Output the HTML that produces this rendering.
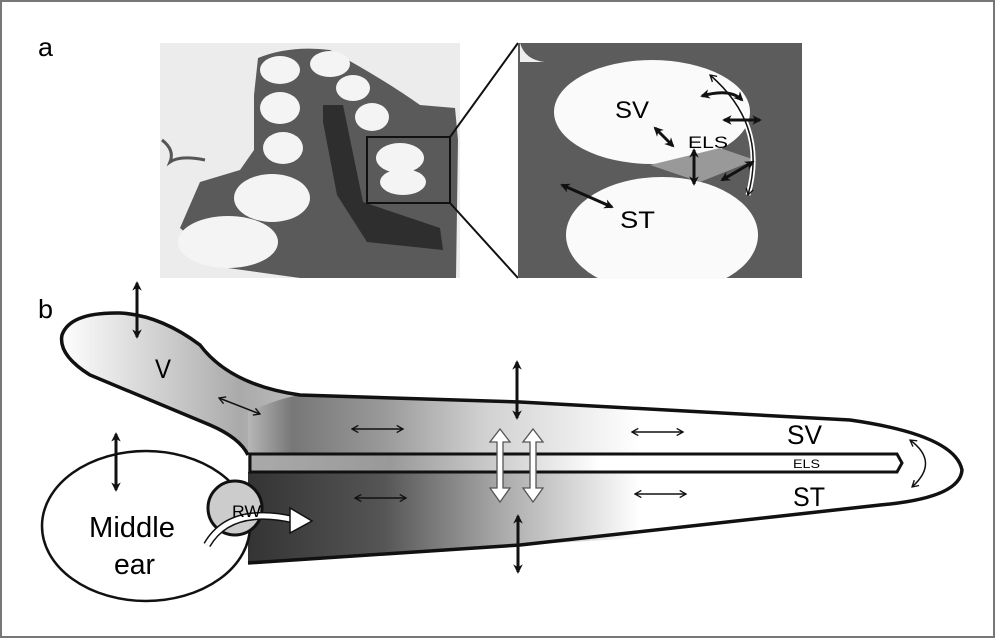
<!DOCTYPE html>
<html><head><meta charset="utf-8"><style>
html,body{margin:0;padding:0;background:#fff}
svg{display:block}
text{font-family:"Liberation Sans",sans-serif}
</style></head><body>
<svg width="995" height="638" viewBox="0 0 995 638" xmlns="http://www.w3.org/2000/svg">
<defs>
<linearGradient id="gV" gradientUnits="userSpaceOnUse" x1="60" y1="0" x2="960" y2="0">
<stop offset="0" stop-color="#fff"/><stop offset="0.2" stop-color="#aaa"/><stop offset="0.4" stop-color="#ddd"/><stop offset="0.64" stop-color="#fff"/><stop offset="1" stop-color="#fff"/></linearGradient>
<linearGradient id="gSV" gradientUnits="userSpaceOnUse" x1="245" y1="0" x2="640" y2="0">
<stop offset="0" stop-color="#bbb"/><stop offset="0.12" stop-color="#777"/><stop offset="0.35" stop-color="#999"/><stop offset="0.6" stop-color="#d0d0d0"/><stop offset="1" stop-color="#fff"/></linearGradient>
<linearGradient id="gST" gradientUnits="userSpaceOnUse" x1="245" y1="0" x2="640" y2="0">
<stop offset="0" stop-color="#333"/><stop offset="0.35" stop-color="#555"/><stop offset="0.65" stop-color="#aaa"/><stop offset="1" stop-color="#fff"/></linearGradient>
<linearGradient id="gELS" gradientUnits="userSpaceOnUse" x1="250" y1="0" x2="600" y2="0">
<stop offset="0" stop-color="#aaa"/><stop offset="0.4" stop-color="#999"/><stop offset="1" stop-color="#fff"/></linearGradient>
<marker id="ah" viewBox="0 0 10 10" refX="8" refY="5" markerWidth="3.2" markerHeight="3.2" orient="auto-start-reverse"><path d="M0,0 L10,5 L0,10 L3,5z" fill="#111"/></marker>
<marker id="ahs" viewBox="0 0 10 10" refX="9" refY="5" markerWidth="6" markerHeight="6" orient="auto-start-reverse"><path d="M2,1 L9,5 L2,9" fill="none" stroke="#111" stroke-width="1.5"/></marker>
</defs>
<rect x="1" y="1" width="993" height="636" fill="#fff" stroke="#777" stroke-width="2"/>
<text x="38" y="56" font-size="26" textLength="15" lengthAdjust="spacingAndGlyphs">a</text>
<text x="38" y="318" font-size="26" textLength="15" lengthAdjust="spacingAndGlyphs">b</text>

<!-- left photo -->
<rect x="160" y="43" width="300" height="235" fill="#ececec"/>
<path d="M258,58 Q290,45 330,50 Q385,80 420,105 L455,108 L458,140 L456,278 L300,278 L228,268 L180,228 L200,182 L240,170 L254,150 L254,95 Z" fill="#5a5a5a"/>
<path d="M323,105 L343,105 L363,202 L440,228 L443,250 L367,242 L337,195 L323,122 Z" fill="#2e2e2e"/>
<g fill="#f4f4f4">
<ellipse cx="280" cy="70" rx="20" ry="14"/><ellipse cx="330" cy="64" rx="20" ry="13"/>
<ellipse cx="353" cy="88" rx="17" ry="13"/><ellipse cx="372" cy="117" rx="17" ry="14"/>
<ellipse cx="280" cy="108" rx="20" ry="16"/><ellipse cx="283" cy="148" rx="20" ry="16"/>
<ellipse cx="400" cy="158" rx="24" ry="15"/><ellipse cx="403" cy="182" rx="23" ry="13"/>
<ellipse cx="272" cy="198" rx="38" ry="24"/><ellipse cx="228" cy="242" rx="50" ry="26"/>
</g>
<path d="M162,140 Q175,150 170,162 Q180,155 205,160" fill="none" stroke="#555" stroke-width="3"/>
<rect x="367" y="137" width="83" height="66" fill="none" stroke="#111" stroke-width="2"/>
<line x1="450" y1="137" x2="518" y2="43" stroke="#111" stroke-width="2"/>
<line x1="450" y1="203" x2="518" y2="278" stroke="#111" stroke-width="2"/>

<!-- right photo -->
<rect x="518" y="43" width="284" height="235" fill="#5c5c5c"/>
<ellipse cx="652" cy="112" rx="98" ry="52" fill="#fafafa"/>
<ellipse cx="662" cy="235" rx="96" ry="58" fill="#fafafa"/>
<rect x="516" y="279" width="290" height="16" fill="#fff"/>
<path d="M650,165 L720,148 L755,160 L700,182 Z" fill="#999"/>
<path d="M520,43 Q525,60 545,62 L520,62 Z" fill="#eee"/>
<path d="M710,75 Q768,125 748,195" fill="none" stroke="#fff" stroke-width="5"/>
<path d="M710,75 Q768,125 748,195" fill="none" stroke="#111" stroke-width="1.5" marker-start="url(#ahs)" marker-end="url(#ahs)"/>
<g stroke="#111" stroke-width="3" fill="none" marker-start="url(#ah)" marker-end="url(#ah)">
<path d="M742,100 Q730,88 702,96"/>
<line x1="724" y1="120" x2="760" y2="120"/>
<line x1="655" y1="128" x2="673" y2="146"/>
<line x1="694" y1="150" x2="694" y2="184"/>
<line x1="722" y1="180" x2="753" y2="162"/>
<line x1="562" y1="185" x2="612" y2="207"/>
</g>
<text x="615" y="118" font-size="24" textLength="34" lengthAdjust="spacingAndGlyphs">SV</text>
<text x="688" y="148" font-size="17" textLength="40" lengthAdjust="spacingAndGlyphs">ELS</text>
<text x="620" y="228" font-size="24" textLength="35" lengthAdjust="spacingAndGlyphs">ST</text>

<!-- panel b -->
<path d="M248,455 Q240,438 210,425 Q150,400 90,375 Q58,355 62,335 Q70,312 120,313 Q160,315 200,345 Q230,385 300,395 L520,402 L850,420 Q955,435 962,470 Q960,498 880,505 L520,545 L248,563 Z" fill="url(#gV)" stroke="none"/>
<path d="M248,412 Q280,398 300,395 L520,402 L640,408 L640,456 L248,456 Z" fill="url(#gSV)"/>
<path d="M248,472 L640,472 L640,538 L520,545 L248,563 Z" fill="url(#gST)"/>
<path d="M248,455 Q240,438 210,425 Q150,400 90,375 Q58,355 62,335 Q70,312 120,313 Q160,315 200,345 Q230,385 300,395 L520,402 L850,420 Q955,435 962,470 Q960,498 880,505 L520,545 L248,563" fill="none" stroke="#111" stroke-width="3.5"/>
<path d="M250,454 L897,454 L902,463 L897,472 L250,472 Z" fill="url(#gELS)" stroke="#111" stroke-width="3"/>
<ellipse cx="146" cy="526" rx="104" ry="75" fill="#fff" stroke="#111" stroke-width="2.5"/>
<circle cx="235" cy="508" r="27" fill="#ccc" stroke="#111" stroke-width="3"/>
<path d="M207,545 Q230,505 295,520" fill="none" stroke="#111" stroke-width="8"/>
<path d="M207,545 Q230,505 295,520" fill="none" stroke="#fff" stroke-width="5"/>
<path d="M290,508 L312,521 L290,533 Z" fill="#fff" stroke="#111" stroke-width="1.5"/>
<text x="232" y="517" font-size="17" textLength="29" lengthAdjust="spacingAndGlyphs">RW</text>
<text x="89" y="537" font-size="29" textLength="86" lengthAdjust="spacingAndGlyphs">Middle</text>
<text x="114" y="574" font-size="29" textLength="41" lengthAdjust="spacingAndGlyphs">ear</text>
<text x="155" y="378" font-size="27" textLength="16" lengthAdjust="spacingAndGlyphs">V</text>
<text x="787" y="444" font-size="27" textLength="35" lengthAdjust="spacingAndGlyphs">SV</text>
<text x="793" y="468" font-size="12" textLength="27" lengthAdjust="spacingAndGlyphs">ELS</text>
<text x="793" y="506" font-size="27" textLength="32" lengthAdjust="spacingAndGlyphs">ST</text>
<g stroke="#111" stroke-width="3" marker-start="url(#ah)" marker-end="url(#ah)">
<line x1="137" y1="283" x2="137" y2="337"/>
<line x1="116" y1="434" x2="116" y2="490"/>
<line x1="517" y1="362" x2="517" y2="418"/>
<line x1="518" y1="516" x2="518" y2="572"/>
</g>
<g stroke="#111" stroke-width="1.5" marker-start="url(#ahs)" marker-end="url(#ahs)" fill="none">
<line x1="219" y1="398" x2="260" y2="414"/>
<line x1="352" y1="429" x2="403" y2="429"/>
<line x1="632" y1="432" x2="683" y2="432"/>
<line x1="355" y1="498" x2="406" y2="498"/>
<line x1="635" y1="494" x2="686" y2="494"/>
<path d="M910,440 Q940,462 912,487"/>
</g>
<g fill="#fff" stroke="#555" stroke-width="1.3">
<path d="M500,429 L510,442 L503,442 L503,488 L510,488 L500,502 L490,488 L497,488 L497,442 L490,442 Z"/>
<path d="M533,429 L543,442 L536,442 L536,488 L543,488 L533,502 L523,488 L530,488 L530,442 L523,442 Z"/>
</g>
</svg>
</body></html>
